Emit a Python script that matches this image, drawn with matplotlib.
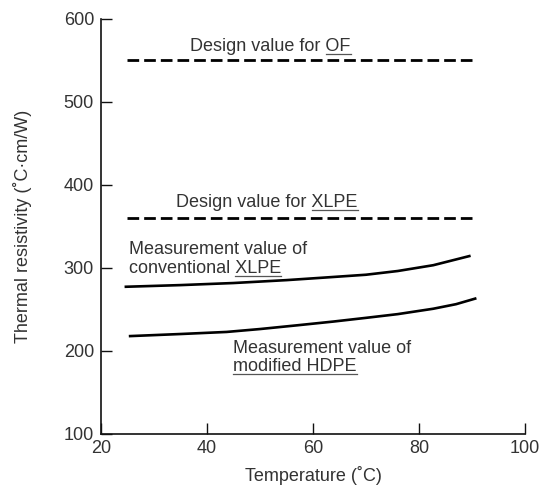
import numpy as np
import matplotlib
matplotlib.use("Agg")
import matplotlib.pyplot as plt
from matplotlib.transforms import IdentityTransform

plt.rcParams['font.family'] = ['Liberation Sans', 'DejaVu Sans']

TXT = '#333333'

# -- data -- #
design_temp = [25, 90.3]
design_of = [550, 550]
design_xlpe = [360, 360]

conv_temp = [24.7, 35, 45, 55, 62, 70, 76, 82.7, 89.5]
conv_xlpe = [277, 279, 281.5, 285, 288, 291.5, 296, 303, 314]

hdpe_temp = [25.5, 35, 43.7, 50, 57, 63.8, 70, 76, 82.7, 87, 90.6]
mod_hdpe = [217.5, 220, 222.5, 226, 230.5, 235, 239.5, 244, 250.5, 256, 262.7]

x_ticks = [20, 40, 60, 80, 100]
y_ticks = [100, 200, 300, 400, 500, 600]

fig = plt.figure(figsize=(5.42, 4.86), dpi=100)
ax = fig.add_axes([0.1863, 0.108, 0.7823, 0.853])

ax.plot(design_temp, design_of, color='black', lw=2, dashes=(4.2, 1.8))
ax.plot(design_temp, design_xlpe, color='black', lw=2, dashes=(4.2, 1.8))
ax.plot(conv_temp, conv_xlpe, color='black', lw=1.9, solid_joinstyle='round')
ax.plot(hdpe_temp, mod_hdpe, color='black', lw=1.9, solid_joinstyle='round')

ax.set_xlim(20, 100)
ax.set_ylim(100, 600)
ax.set_xticks(x_ticks)
ax.set_yticks(y_ticks)

fs = 13
renderer = fig.canvas.get_renderer()


def label(x, y, s, under=None, ha='left'):
    t = ax.text(x, y, s, ha=ha, va='baseline', fontsize=fs, color=TXT)
    if under is None:
        return
    bb = t.get_window_extent(renderer)
    tmp = ax.text(0, 0, under, fontsize=fs)
    w = tmp.get_window_extent(renderer).width
    tmp.remove()
    yb = ax.transData.transform((x, y))[1] - 3
    ax.plot([bb.x1 - w, bb.x1], [yb, yb], color='#555555', lw=0.9,
            transform=IdentityTransform())


label(52.0, 561, 'Design value for OF', 'OF', ha='center')
label(51.3, 373, 'Design value for XLPE', 'XLPE', ha='center')
label(25.3, 316, 'Measurement value of')
label(25.3, 294, 'conventional XLPE', 'XLPE')
label(45.0, 197, 'Measurement value of')
label(45.0, 175, 'modified HDPE', 'modified HDPE')

for s in ['top', 'right']:
    ax.spines[s].set_visible(False)
for s in ['left', 'bottom']:
    ax.spines[s].set_linewidth(1.2)
    ax.spines[s].set_color('#111111')

ax.tick_params(direction='in', length=8, width=1.0, color='#111111',
               labelsize=13, labelcolor=TXT)
ax.tick_params(axis='y', pad=5)
ax.tick_params(axis='x', pad=5)

ax.set_xlabel('Temperature (˚C)', fontsize=13, color=TXT, labelpad=6)
ax.set_ylabel('Thermal resistivity (˚C·cm/W)', fontsize=13, color=TXT, labelpad=23)

fig.savefig('out.png', dpi=100)
